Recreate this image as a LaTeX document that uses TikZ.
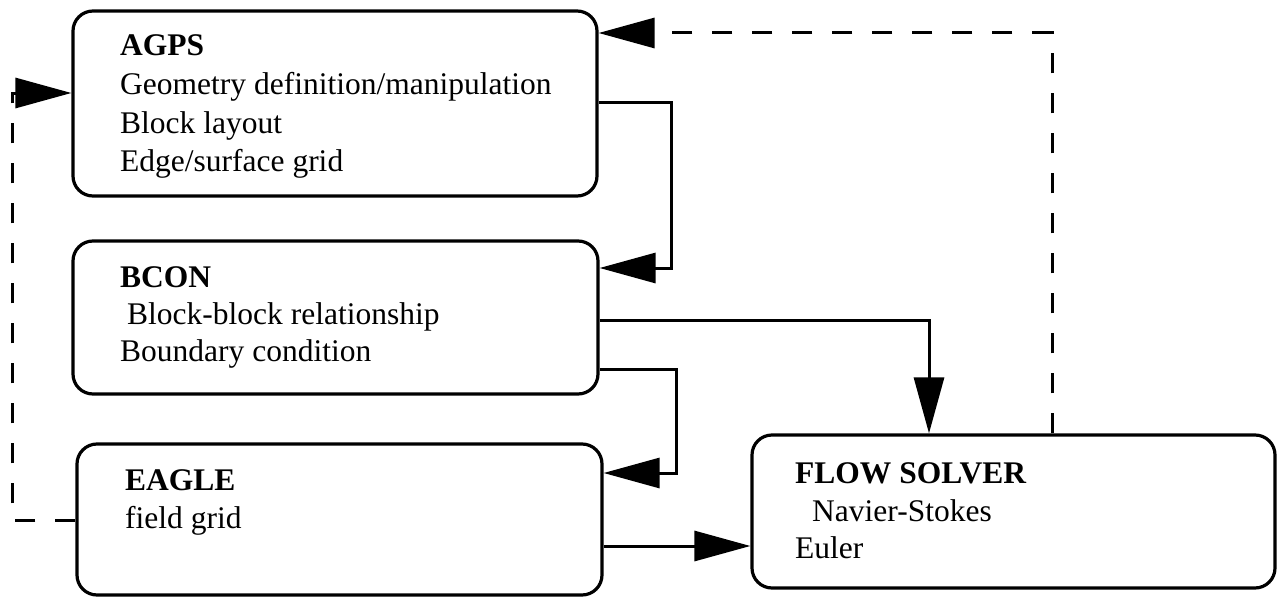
\documentclass[tikz,border=0pt]{standalone}
\usepackage{fontspec}
\setmainfont{Liberation Serif}
\usetikzlibrary{arrows.meta}
\begin{document}
\begin{tikzpicture}[x=1pt,y=-1pt,
  box/.style={draw,line width=3.2pt,rounded corners=20pt,inner sep=0pt},
  txt/.style={anchor=base west,inner sep=0pt,font=\fontsize{31.5}{37}\selectfont},
  hd/.style={txt,font=\fontsize{31.5}{37}\selectfont\bfseries},
  conn/.style={line width=3pt,-{Triangle[length=56pt,width=30pt]}},
  dconn/.style={conn,dash pattern=on 20pt off 20pt}]
\useasboundingbox (0,0) rectangle (1285,602);
% boxes
\node[box,minimum width=524pt,minimum height=185pt] (agps) at (335,103.5) {};
\node[box,minimum width=525pt,minimum height=153pt] (bcon) at (335.5,317.5) {};
\node[box,minimum width=525pt,minimum height=151pt] (eagle) at (339.5,519.5) {};
\node[box,minimum width=523pt,minimum height=153pt] (flow) at (1013.5,511.5) {};
% texts
\node[hd] (t1) at (120,56) {AGPS};
\node[txt] (t2) at (120,94) {Geometry definition/manipulation};
\node[txt] (t3) at (120,133) {Block layout};
\node[txt] (t4) at (120,171) {Edge/surface grid};
\node[hd] (t5) at (120,287) {BCON};
\node[txt] (t6) at (127,324) {Block-block relationship};
\node[txt] (t7) at (120,361) {Boundary condition};
\node[hd] (t8) at (125,490) {EAGLE};
\node[txt] (t9) at (125,528) {field grid};
\node[hd] (t10) at (795,483) {FLOW SOLVER};
\node[txt] (t11) at (812,521) {Navier-Stokes};
\node[txt] (t12) at (795,558) {Euler};
% helper coordinates
\coordinate (c1) at (671,102);
\coordinate (c2) at (671,268);
\coordinate (c3) at (929,320);
\coordinate (c4) at (676,369);
\coordinate (c5) at (676,473);
\coordinate (c6) at (0,546);
\coordinate (c7) at (1052,33);
\coordinate (c8) at (12,520);
\coordinate (c9) at (12,93);
% connectors
\draw[conn] (agps.east |- c1) -- (c1) -- (c2) -- (bcon.east |- c2);
\draw[conn] (bcon.east |- c3) -- (c3) -- (c3 |- flow.north);
\draw[conn] (bcon.east |- c4) -- (c4) -- (c5) -- (eagle.east |- c5);
\draw[conn] (eagle.east |- c6) -- (flow.west |- c6);
\draw[dconn] (c7 |- flow.north) -- (c7) -- (agps.east |- c7);
\draw[dconn] (eagle.west |- c8) -- (c8) -- (c9) -- (agps.west |- c9);
\end{tikzpicture}
\end{document}
